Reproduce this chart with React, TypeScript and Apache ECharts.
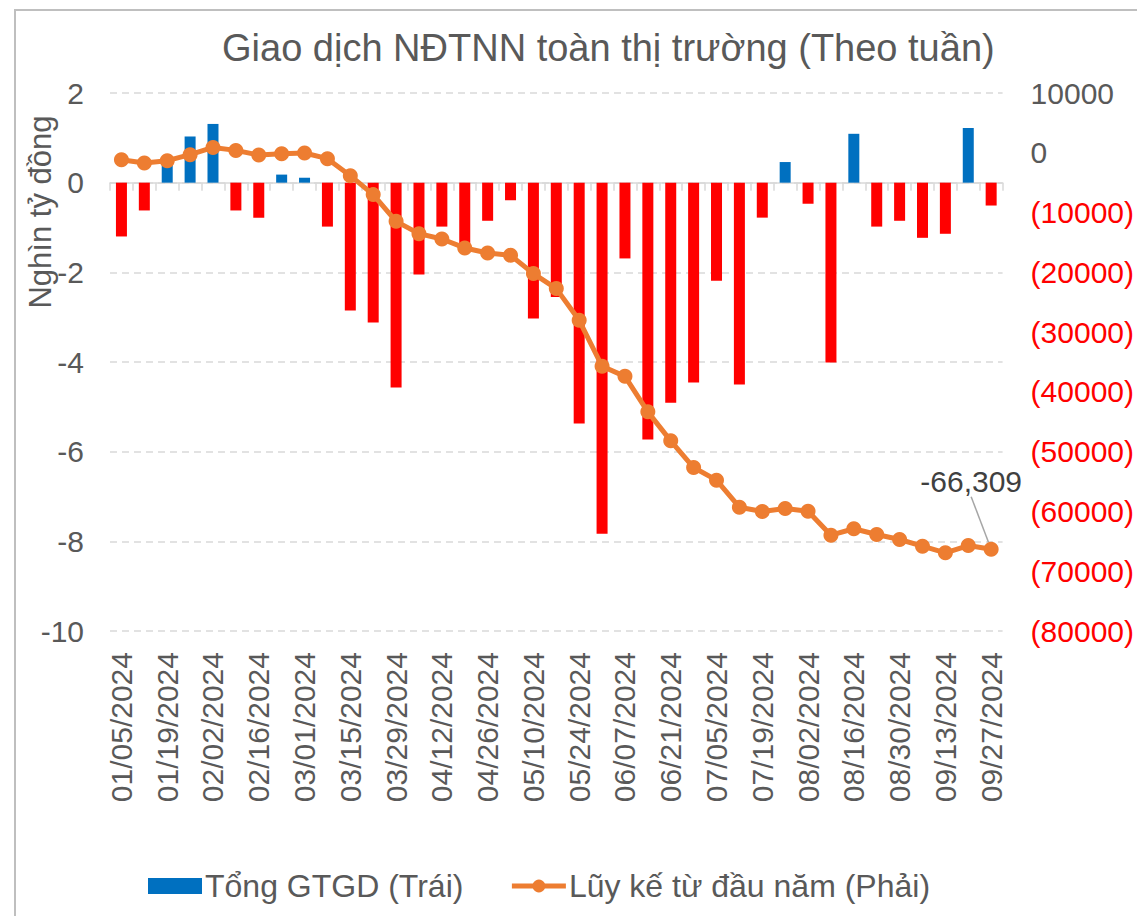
import React, { useEffect, useRef } from "react";
import * as echarts from "echarts";

const categories = [
  "01/05/2024", "01/12/2024", "01/19/2024", "01/26/2024", "02/02/2024", "02/09/2024",
  "02/16/2024", "02/23/2024", "03/01/2024", "03/08/2024", "03/15/2024", "03/22/2024",
  "03/29/2024", "04/05/2024", "04/12/2024", "04/19/2024", "04/26/2024", "05/03/2024",
  "05/10/2024", "05/17/2024", "05/24/2024", "05/31/2024", "06/07/2024", "06/14/2024",
  "06/21/2024", "06/28/2024", "07/05/2024", "07/12/2024", "07/19/2024", "07/26/2024",
  "08/02/2024", "08/09/2024", "08/16/2024", "08/23/2024", "08/30/2024", "09/06/2024",
  "09/13/2024", "09/20/2024", "09/27/2024",
];

// Tổng GTGD (nghìn tỷ đồng), weekly net
const weeklyFlow = [
  -1.2, -0.62, 0.45, 1.03, 1.31, -0.62, -0.78, 0.18, 0.11, -0.98,
  -2.85, -3.12, -4.57, -2.05, -0.98, -1.45, -0.85, -0.39, -3.03, -2.55,
  -5.37, -7.83, -1.69, -5.73, -4.91, -4.46, -2.19, -4.5, -0.78, 0.46,
  -0.47, -4.01, 1.09, -0.98, -0.85, -1.23, -1.14, 1.22, -0.51,
];

// Lũy kế từ đầu năm (tỷ đồng)
const cumulative = [
  -1150, -1710, -1320, -320, 900, 400, -370, -150, -40, -990,
  -3830, -7000, -11470, -13530, -14420, -15920, -16760, -17150, -20210, -22720,
  -28020, -35710, -37400, -43340, -48190, -52650, -54770, -59290, -60000, -59510,
  -59960, -63970, -62900, -63850, -64690, -65810, -66920, -65700, -66309,
];

const leftTicks = { min: -10, max: 2, interval: 2 };
const rightTicks = { min: -80000, max: 10000, interval: 10000 };

const TITLE = "Giao dịch NĐTNN toàn thị trường (Theo tuần)";
const BAR_NAME = "Tổng GTGD (Trái)";
const LINE_NAME = "Lũy kế từ đầu năm (Phải)";
const Y_NAME = "Nghìn tỷ đồng";

const FONT = "'Liberation Sans', Arial, sans-serif";
const GRAY = "#595959";

export default function App() {
  const ref = useRef<HTMLDivElement>(null);

  useEffect(() => {
    if (!ref.current) return;
    const chart = echarts.init(ref.current, null, { renderer: "svg" });
    const lastIdx = cumulative.length - 1;

    chart.setOption({
      animation: false,
      backgroundColor: "#ffffff",
      textStyle: { fontFamily: FONT },
      title: {
        text: TITLE,
        left: 217,
        top: 24,
        textStyle: { fontFamily: FONT, fontSize: 38, fontWeight: "normal", color: GRAY },
      },
      graphic: [
        {
          type: "rect",
          shape: { x: 15, y: 10, width: 1200, height: 1000 },
          style: { fill: "none", stroke: "#BFBFBF", lineWidth: 2 },
          silent: true,
          z: -1,
        },
        {
          type: "text",
          x: 40,
          y: 212,
          rotation: Math.PI / 2,
          style: {
            text: Y_NAME,
            font: `31px ${FONT}`,
            fill: GRAY,
            align: "center",
            verticalAlign: "middle",
          },
        },
      ],
      legend: {
        left: 143,
        top: 865,
        itemWidth: 54,
        itemHeight: 16,
        itemGap: 46,
        textStyle: { fontFamily: FONT, fontSize: 32, color: GRAY, padding: [0, 0, 0, -2] },
        data: [
          { name: BAR_NAME, icon: "rect" },
          { name: LINE_NAME, lineStyle: { width: 5 } },
        ],
      },
      grid: { left: 110, right: 134, top: 93, bottom: 285, containLabel: false },
      xAxis: [
        {
          type: "category",
          data: categories,
          boundaryGap: true,
          axisLine: { onZero: true, onZeroAxisIndex: 0, lineStyle: { color: "#D9D9D9", width: 1.5 } },
          axisTick: { show: true, interval: 0, length: 8, lineStyle: { color: "#D9D9D9", width: 1.5 } },
          axisLabel: { show: false },
          splitLine: { show: false },
        },
        {
          type: "category",
          data: categories,
          position: "bottom",
          boundaryGap: true,
          axisLine: { show: false, onZero: false },
          axisTick: { show: false },
          axisLabel: {
            interval: 1,
            rotate: 90,
            margin: 21,
            fontFamily: FONT,
            fontSize: 30,
            color: GRAY,
          },
          splitLine: { show: false },
        },
      ],
      yAxis: [
        {
          type: "value",
          min: leftTicks.min,
          max: leftTicks.max,
          interval: leftTicks.interval,
          axisLine: { show: false },
          axisTick: { show: false },
          axisLabel: { margin: 26, fontFamily: FONT, fontSize: 30, color: GRAY },
          splitLine: { show: true, lineStyle: { color: "#D9D9D9", width: 1.5, type: [7, 5] } },
        },
        {
          type: "value",
          min: rightTicks.min,
          max: rightTicks.max,
          interval: rightTicks.interval,
          position: "right",
          axisLine: { show: false },
          axisTick: { show: false },
          splitLine: { show: false },
          axisLabel: {
            margin: 28,
            fontFamily: FONT,
            fontSize: 30,
            color: (v: any) => (Number(v) < 0 ? "#FF0000" : GRAY),
            formatter: (v: number) => (v < 0 ? `(${-v})` : `${v}`),
          },
        },
      ],
      series: [
        {
          name: BAR_NAME,
          type: "bar",
          xAxisIndex: 0,
          yAxisIndex: 0,
          barWidth: 11,
          itemStyle: { color: "#0070C0" },
          data: weeklyFlow.map((v) => ({
            value: v,
            itemStyle: { color: v < 0 ? "#FF0000" : "#0070C0" },
          })),
        },
        {
          name: LINE_NAME,
          type: "line",
          xAxisIndex: 0,
          yAxisIndex: 1,
          symbol: "circle",
          symbolSize: 15,
          color: "#ED7D31",
          lineStyle: { color: "#ED7D31", width: 5 },
          itemStyle: { color: "#ED7D31" },
          labelLayout: (p: any) => (p.dataIndex === lastIdx ? { dx: -20, dy: -40 } : {}),
          labelLine: { show: true, lineStyle: { color: "#A6A6A6", width: 1.5 } },
          data: cumulative.map((v, i) =>
            i === lastIdx
              ? {
                  value: v,
                  label: {
                    show: true,
                    position: "top",
                    fontFamily: FONT,
                    fontSize: 30,
                    color: "#404040",
                    formatter: () => v.toLocaleString("en-US"),
                  },
                  labelLine: { show: true, lineStyle: { color: "#A6A6A6", width: 1.5 } },
                }
              : v
          ),
        },
      ],
    });

    return () => chart.dispose();
  }, []);

  return (
    <div
      ref={ref}
      style={{ position: "absolute", left: 0, top: 0, width: 1137, height: 916 }}
    />
  );
}
